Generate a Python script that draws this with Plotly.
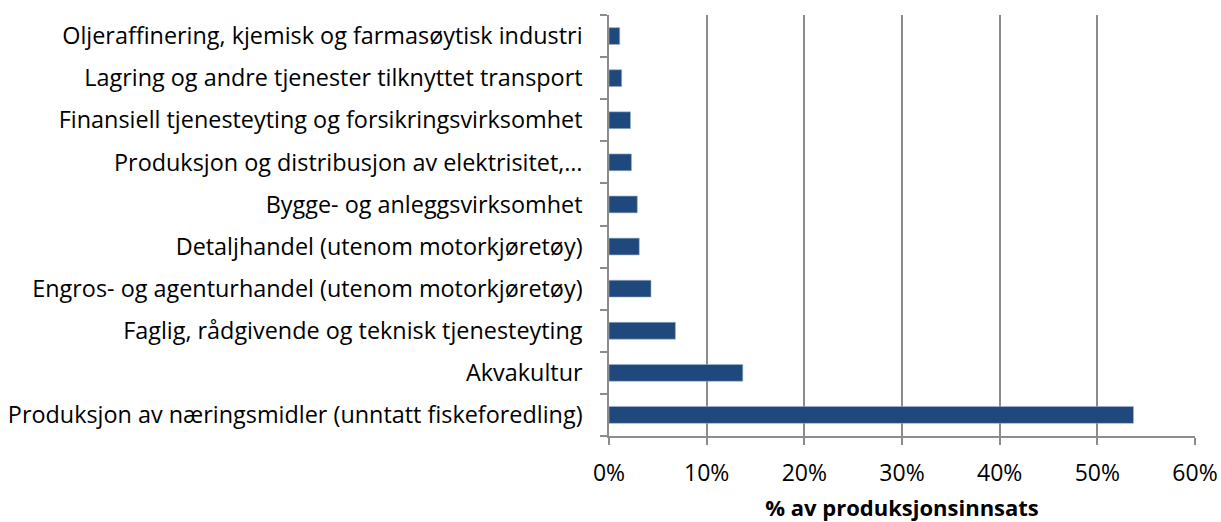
import plotly.graph_objects as go

# Andel av produksjonsinnsats per næring (prosent)
categories = [
    "Produksjon av næringsmidler (unntatt fiskeforedling)",
    "Akvakultur",
    "Faglig, rådgivende og teknisk tjenesteyting",
    "Engros- og agenturhandel (utenom motorkjøretøy)",
    "Detaljhandel (utenom motorkjøretøy)",
    "Bygge- og anleggsvirksomhet",
    "Produksjon og distribusjon av elektrisitet,…",
    "Finansiell tjenesteyting og forsikringsvirksomhet",
    "Lagring og andre tjenester tilknyttet transport",
    "Oljeraffinering, kjemisk og farmasøytisk industri",
]
values = [53.7, 13.7, 6.8, 4.3, 3.1, 2.9, 2.3, 2.2, 1.3, 1.1]

x_ticks = [0, 10, 20, 30, 40, 50, 60]
x_tick_labels = ["0%", "10%", "20%", "30%", "40%", "50%", "60%"]
x_title = "% av produksjonsinnsats"

font_family = "'Open Sans', Lato, sans-serif"
axis_grey = "#8c8c8c"

fig = go.Figure(
    go.Bar(
        y=categories,
        x=values,
        orientation="h",
        marker=dict(color="#1F497D", line=dict(color="#9fb3cc", width=0.6)),
        hoverinfo="x+y",
    )
)

fig.update_layout(
    width=1221,
    height=522,
    margin=dict(l=609, r=26, t=15, b=86),
    plot_bgcolor="white",
    paper_bgcolor="white",
    bargap=0.6,
    showlegend=False,
    font=dict(family=font_family, size=23.4, color="#000000"),
)

fig.update_xaxes(
    range=[0, 60],
    tickvals=x_ticks,
    ticktext=x_tick_labels,
    showgrid=True,
    gridcolor=axis_grey,
    gridwidth=1.5,
    showline=True,
    linecolor=axis_grey,
    linewidth=1.5,
    ticks="outside",
    ticklen=7,
    tickwidth=1.5,
    tickcolor=axis_grey,
    zeroline=False,
    automargin=False,
    tickfont=dict(size=23),
    ticklabelstandoff=9,
    title=dict(text="<b>" + x_title + "</b>", font=dict(size=22), standoff=22),
)

fig.update_yaxes(
    categoryorder="array",
    categoryarray=categories,
    showline=True,
    linecolor=axis_grey,
    linewidth=1.5,
    ticks="outside",
    tickson="boundaries",
    ticklen=7,
    tickwidth=1.5,
    tickcolor=axis_grey,
    showgrid=False,
    automargin=False,
    tickfont=dict(size=23.4),
    ticklabelstandoff=20,
)

fig.write_html("out.html")
